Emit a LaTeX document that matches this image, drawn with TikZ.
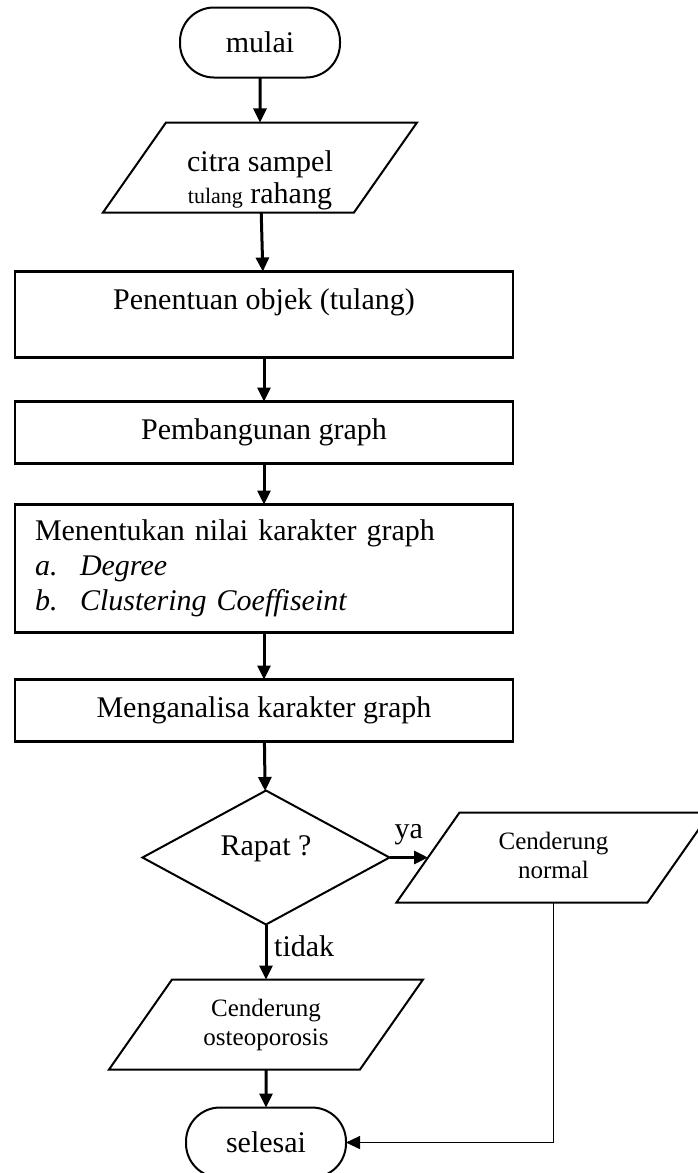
\documentclass[tikz,border=0pt]{standalone}
\usepackage{fontspec}
\setmainfont{Liberation Serif}
\usepackage{tikz}
\usetikzlibrary{arrows.meta, positioning, shapes.geometric}
\newcommand{\flowfont}{\fontsize{15}{17.5}\selectfont}
\newcommand{\smallflow}{\fontsize{12.5}{14.5}\selectfont}
\tikzset{every node/.style={font=\flowfont}}

\begin{document}
\begin{tikzpicture}[
    >={Triangle[length=7pt, width=6.5pt]},
    term/.style={draw, line width=1pt, outer sep=0pt, rounded corners=17pt, minimum width=80pt, minimum height=35pt},
    io/.style={draw, line width=1pt, outer sep=0pt, trapezium, trapezium left angle=55, trapezium right angle=125,
      trapezium stretches body, inner ysep=0pt, minimum width=157pt, minimum height=45pt, align=center},
    proc/.style={draw, line width=1.1pt, outer sep=0pt, minimum width=249pt, minimum height=31pt},
    decide/.style={draw, line width=1pt, outer sep=0pt, diamond, shape aspect=2, inner sep=1pt,
      minimum width=123.5pt, minimum height=67pt},
    flow/.style={->, line width=1.5pt},
  ]
  \useasboundingbox (0,0) rectangle (348.5pt,-586.5pt);
  % main column
  \node[term] (mulai) at (130pt,-21.25pt) {mulai};
  \node[io, font=\fontsize{15}{16}\selectfont, text height=40.5pt, text depth=4.5pt,
    below=22.5pt of mulai] (citra) {citra sampel\\{\fontsize{11}{16}\selectfont tulang} rahang};
  \node[proc, minimum height=43pt, inner ysep=0pt, text height=19pt, text depth=24pt,
    below=29.5pt of citra, xshift=2pt] (objek) {Penentuan objek (tulang)};
  \node[proc, below=22pt of objek] (bangun) {Pembangunan graph};
  \node[proc, minimum height=64pt, inner xsep=10pt, text width=229pt, align=left,
    below=20.5pt of bangun] (nilai) {Menentukan nilai karakter graph\\
    \makebox[22.5pt][l]{\textit{a.}}\textit{Degree}\\
    \makebox[22.5pt][l]{\textit{b.}}\textit{Clustering Coeffiseint}};
  \node[proc, below=23.5pt of nilai] (analisa) {Menganalisa karakter graph};
  \node[decide, text height=11pt, text depth=13pt, below=24.5pt of analisa, xshift=1pt] (rapat) {Rapat ?};
  \node[io, font=\smallflow, text height=33pt, text depth=12pt, right=19.25pt of rapat] (normal) {Cenderung\\normal};
  \node[io, font=\smallflow, text height=33pt, text depth=12pt, below=27.5pt of rapat] (osteo) {Cenderung\\osteoporosis};
  \node[term, below=19pt of osteo] (selesai) {selesai};
  % connectors
  \draw[flow] (mulai) -- (citra);
  \draw[flow] (citra) -- (objek);
  \draw[flow] (objek) -- (bangun);
  \draw[flow] (bangun) -- (nilai);
  \draw[flow] (nilai) -- (analisa);
  \draw[flow] (analisa) -- (rapat);
  \draw[flow] (rapat.east) -- node[above=2pt] (ya) {ya} (normal.west);
  \draw[flow] (rapat.south) -- node[right, pos=0.4] (tidak) {tidak} (osteo.north);
  \draw[flow] (osteo) -- (selesai);
  \draw[->, line width=0.7pt] (normal.south) |- (selesai.east);
\end{tikzpicture}
\end{document}
